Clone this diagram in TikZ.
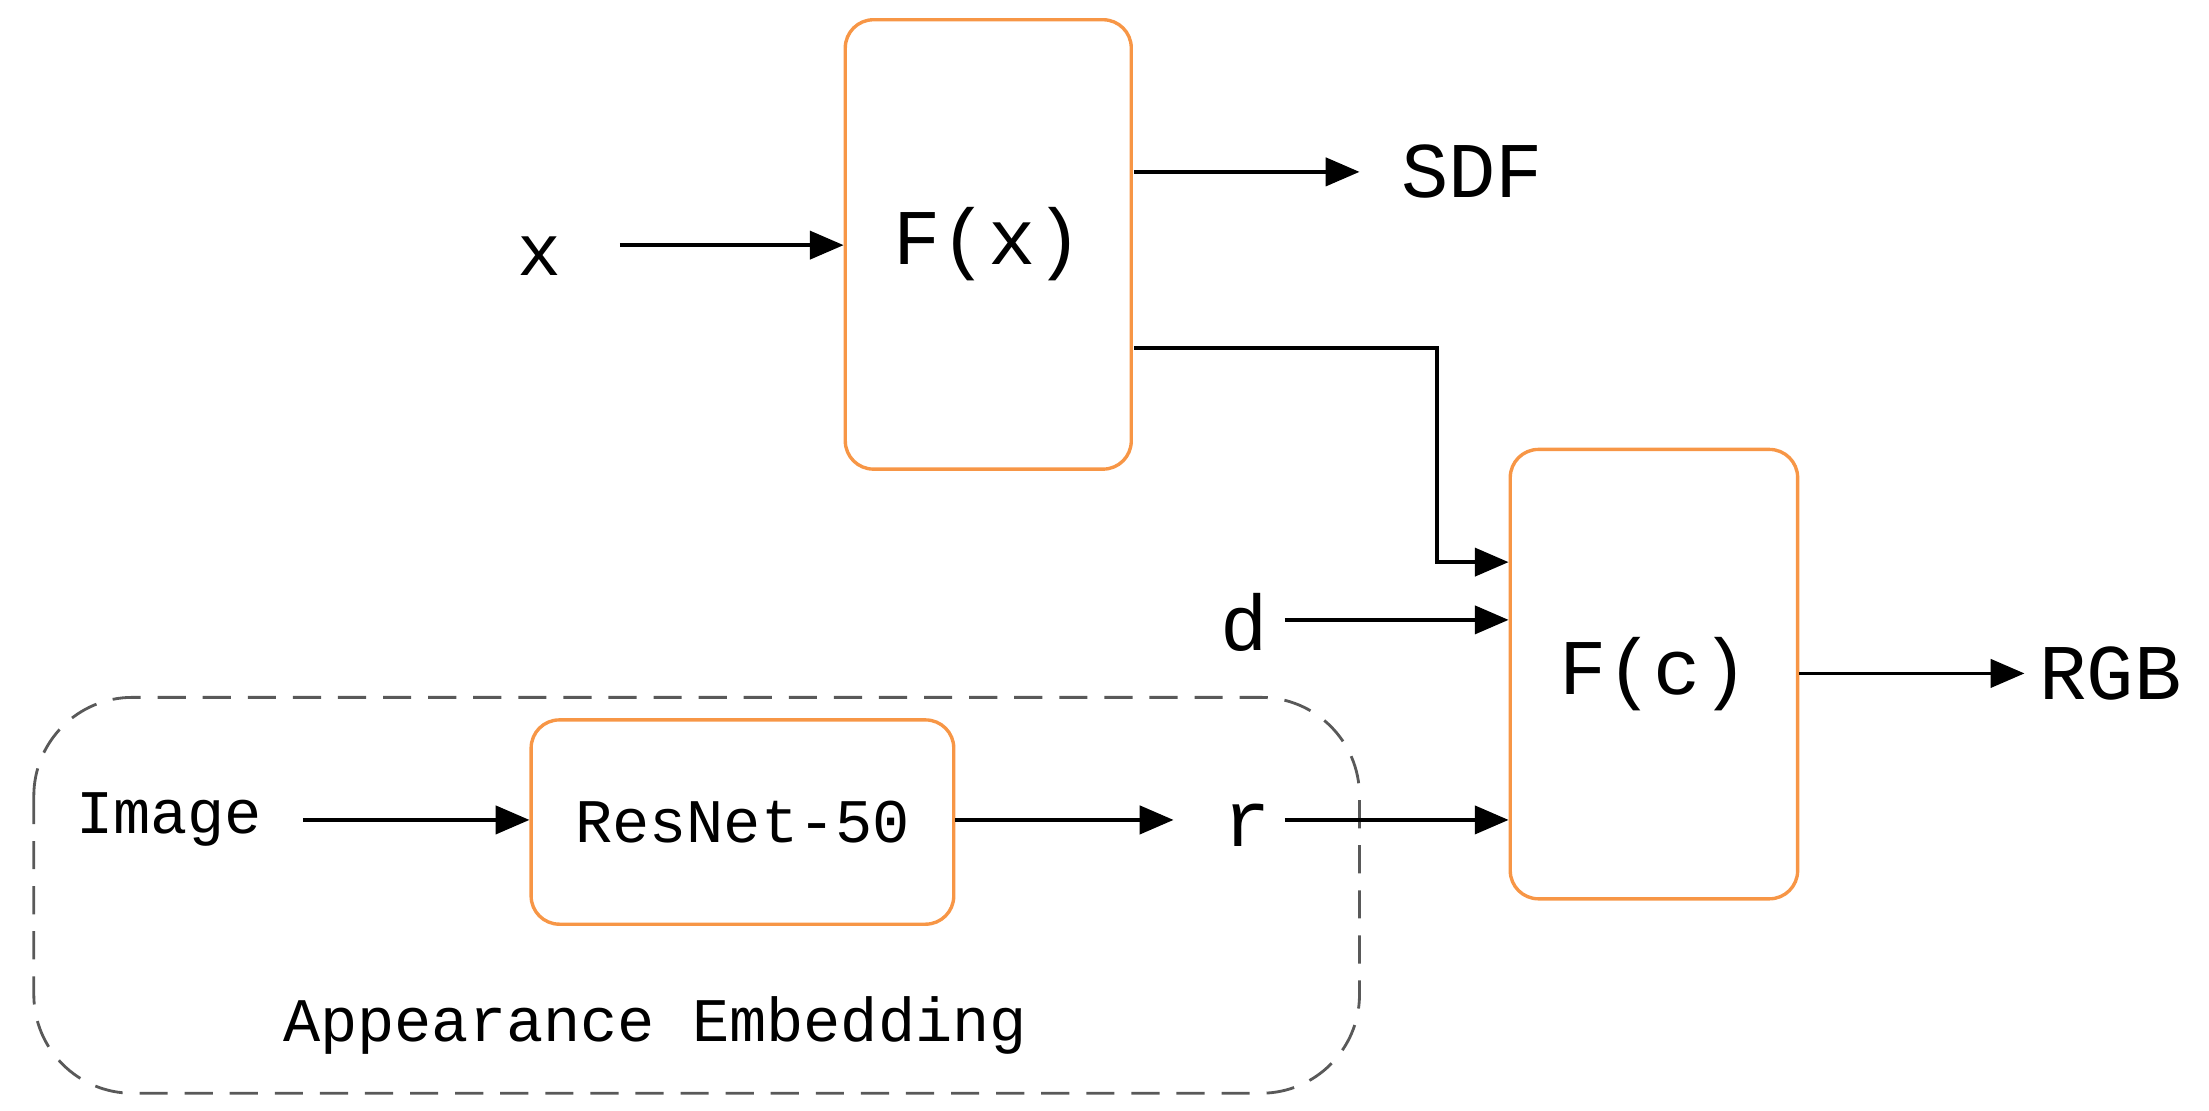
\documentclass[tikz,border=0pt]{standalone}
\usepackage{fontspec}
\setmainfont{Liberation Mono}
\usetikzlibrary{arrows.meta}
\definecolor{boxorange}{RGB}{247,150,70}
\begin{document}
\begin{tikzpicture}[x=0.5pt,y=-0.5pt,
  box/.style={draw=boxorange,line width=1.2pt,rounded corners=10pt,inner sep=0pt},
  lbl/.style={inner sep=0pt,font=\fontsize{26}{28}\selectfont},
  arr/.style={line width=1.3pt,-{Triangle[length=12pt,width=10pt]}}]
\useasboundingbox (0,0) rectangle (1568,788);
% dashed group
\draw[gray!70!black,dash pattern=on 10pt off 6pt,line width=1pt,rounded corners=35pt] (24,495) rectangle (965,776);
% boxes
\node[box,minimum width=101.5pt,minimum height=159.5pt] (fx) at (701.5,173.5) {};
\node[lbl,font=\fontsize{28}{30}\selectfont] at (fx) {F(x)};
\node[box,minimum width=102pt,minimum height=159.5pt] (fc) at (1174,478.5) {};
\node[lbl,font=\fontsize{28}{30}\selectfont] at (fc) {F(c)};
\node[box,minimum width=150pt,minimum height=72.5pt] (rn) at (527,583.5) {};
\node[lbl,font=\fontsize{22}{24}\selectfont] at (rn) {ResNet-50};
% labels
\node[lbl] (x) at (383,182) {x};
\node[lbl,font=\fontsize{28}{30}\selectfont] (sdf) at (1045,122) {SDF};
\node[lbl,font=\fontsize{28}{30}\selectfont] (d) at (883,442) {d};
\node[lbl,font=\fontsize{28}{30}\selectfont] (rgb) at (1498,478) {RGB};
\node[lbl,font=\fontsize{22}{24}\selectfont] (img) at (120,582) {Image};
\node[lbl,font=\fontsize{28}{30}\selectfont] (r) at (885,586) {r};
\node[lbl,font=\fontsize{22}{24}\selectfont] (ae) at (465,728) {Appearance Embedding};
% connectors
\coordinate (x1) at (440,174);
\coordinate (s0) at (805,122);
\coordinate (s1) at (965,122);
\coordinate (c0) at (805,247);
\coordinate (d0) at (912,440);
\coordinate (r0) at (912,582);
\coordinate (g1) at (1437,478);
\coordinate (i0) at (215,582);
\coordinate (n1) at (833,582);
\draw[arr] (x1) -- (fx.west |- x1);
\draw[arr] (s0) -- (s1);
\draw[arr] (c0) -- (1020,247) -- (1020,399) -- (fc.west |- 0,399);
\draw[arr] (d0) -- (fc.west |- d0);
\draw[arr] (r0) -- (fc.west |- r0);
\draw[arr] (fc.east |- g1) -- (g1);
\draw[arr] (i0) -- (rn.west |- i0);
\draw[arr] (rn.east |- n1) -- (n1);
\end{tikzpicture}
\end{document}
